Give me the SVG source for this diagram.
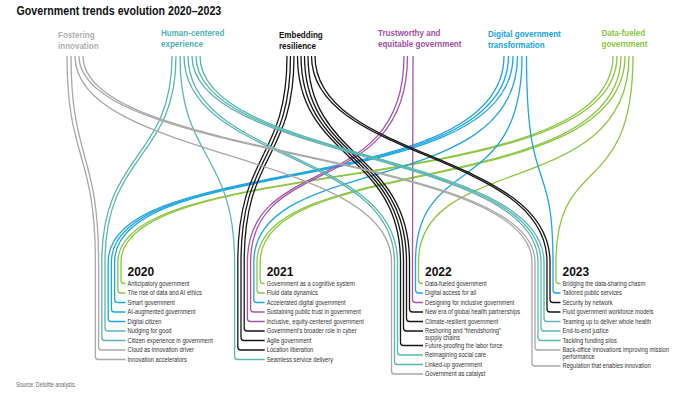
<svg xmlns="http://www.w3.org/2000/svg" width="700" height="398" viewBox="0 0 700 398">
<style>
.ln{fill:none;stroke-width:1.3;stroke-linecap:butt}
.gy{stroke:#a8a8a8}.tl{stroke:#5bb6b1}.bk{stroke:#161616}.pu{stroke:#a655a6}.bl{stroke:#1ea6e0}.gr{stroke:#8dc641}
.ttl{font-family:'Liberation Sans',Arial,sans-serif;font-weight:bold;font-size:13px;fill:#111}
.cat{font-family:'Liberation Sans',Arial,sans-serif;font-weight:bold;font-size:9.8px}
.yr{font-family:'Liberation Sans',Arial,sans-serif;font-weight:bold;font-size:12px;fill:#111}
.it{font-family:'Liberation Sans',Arial,sans-serif;font-size:7.2px;fill:#333}
.src{font-family:'Liberation Sans',Arial,sans-serif;font-size:6.5px;fill:#666}
</style>
<rect width="700" height="398" fill="#fff"/>
<g transform="translate(16.5 0) scale(0.82 1)"><text class="ttl" x="0" y="15">Government trends evolution 2020–2023</text></g>

<g id="connectors">
<path class="ln gr" d="M617 56C617 200 121 152 121 262V280.5Q121 283.5 124 283.5H125.5"/>
<path class="ln gr" d="M613 56C613 200 117.8 152 117.8 262V290Q117.8 293 120.8 293H125.5"/>
<path class="ln bl" d="M513 56C513 200 114.6 152 114.6 262V299.5Q114.6 302.5 117.6 302.5H125.5"/>
<path class="ln bl" d="M508.5 56C508.5 200 111.4 152 111.4 262V309Q111.4 312 114.4 312H125.5"/>
<path class="ln bl" d="M504 56C504 200 108.2 152 108.2 262V318.5Q108.2 321.5 111.2 321.5H125.5"/>
<path class="ln tl" d="M176 56C176 160 105 152 105 262V328Q105 331 108 331H125.5"/>
<path class="ln tl" d="M172 56C172 160 101.8 152 101.8 262V337.5Q101.8 340.5 104.8 340.5H125.5"/>
<path class="ln gy" d="M71 56C71 160 98.6 152 98.6 262V347Q98.6 350 101.6 350H125.5"/>
<path class="ln gy" d="M67 56C67 160 95.4 152 95.4 262V356.5Q95.4 359.5 98.4 359.5H125.5"/>
<path class="ln gr" d="M625 56C625 200 260.2 152 260.2 262V280.5Q260.2 283.5 263.2 283.5H264.7"/>
<path class="ln gr" d="M621 56C621 200 257 152 257 262V290Q257 293 260 293H264.7"/>
<path class="ln bl" d="M517.5 56C517.5 200 253.8 152 253.8 262V299.5Q253.8 302.5 256.8 302.5H264.7"/>
<path class="ln pu" d="M407.5 56C407.5 200 250.6 152 250.6 262V309Q250.6 312 253.6 312H264.7"/>
<path class="ln pu" d="M404 56C404 200 247.4 152 247.4 262V318.5Q247.4 321.5 250.4 321.5H264.7"/>
<path class="ln bk" d="M294 56C294 160 244.2 152 244.2 262V328Q244.2 331 247.2 331H264.7"/>
<path class="ln bk" d="M290.5 56C290.5 160 241 152 241 262V337.5Q241 340.5 244 340.5H264.7"/>
<path class="ln bk" d="M287 56C287 160 237.8 152 237.8 262V347Q237.8 350 240.8 350H264.7"/>
<path class="ln tl" d="M180 56C180 160 234.6 152 234.6 262V356.5Q234.6 359.5 237.6 359.5H264.7"/>
<path class="ln gr" d="M629 56C629 200 418.5 152 418.5 262V280.5Q418.5 283.5 421.5 283.5H423"/>
<path class="ln bl" d="M522 56C522 200 415.5 152 415.5 262V290Q415.5 293 418.5 293H423"/>
<path class="ln pu" d="M413 56C413 200 412.5 152 412.5 262V299.5Q412.5 302.5 415.5 302.5H423"/>
<path class="ln bk" d="M308 56C308 160 409.5 152 409.5 262V309Q409.5 312 412.5 312H423"/>
<path class="ln bk" d="M304.5 56C304.5 160 406.5 152 406.5 262V318.5Q406.5 321.5 409.5 321.5H423"/>
<path class="ln bk" d="M301 56C301 160 403.5 152 403.5 262V328Q403.5 331 406.5 331H423"/>
<path class="ln bk" d="M297.5 56C297.5 160 400.5 152 400.5 262V342.5Q400.5 345.5 403.5 345.5H423"/>
<path class="ln tl" d="M188 56C188 160 397.5 152 397.5 262V352Q397.5 355 400.5 355H423"/>
<path class="ln tl" d="M184 56C184 160 394.5 152 394.5 262V361.5Q394.5 364.5 397.5 364.5H423"/>
<path class="ln gy" d="M75 56C75 160 391.5 152 391.5 262V371Q391.5 374 394.5 374H423"/>
<path class="ln gr" d="M633 56C633 200 556 152 556 262V280.5Q556 283.5 559 283.5H560.5"/>
<path class="ln bl" d="M526.5 56C526.5 200 553 152 553 262V290Q553 293 556 293H560.5"/>
<path class="ln bk" d="M315 56C315 160 550 152 550 262V299.5Q550 302.5 553 302.5H560.5"/>
<path class="ln bk" d="M311.5 56C311.5 160 547 152 547 262V309Q547 312 550 312H560.5"/>
<path class="ln tl" d="M200 56C200 160 544 152 544 262V318.5Q544 321.5 547 321.5H560.5"/>
<path class="ln tl" d="M196 56C196 160 541 152 541 262V328Q541 331 544 331H560.5"/>
<path class="ln tl" d="M192 56C192 160 538 152 538 262V337.5Q538 340.5 541 340.5H560.5"/>
<path class="ln gy" d="M83 56C83 160 535 152 535 262V347Q535 350 538 350H560.5"/>
<path class="ln gy" d="M79 56C79 160 532 152 532 262V363Q532 366 535 366H560.5"/>
</g>

<g id="cat-fostering" transform="translate(58 0) scale(0.82 1)">
<text class="cat" fill="#b0b0b0" x="0" y="38.5">Fostering</text>
<text class="cat" fill="#b0b0b0" x="0" y="49.5">innovation</text>
</g>
<g id="cat-human" transform="translate(161 0) scale(0.82 1)">
<text class="cat" fill="#4fb3ae" x="0" y="36">Human-centered</text>
<text class="cat" fill="#4fb3ae" x="0" y="47">experience</text>
</g>
<g id="cat-resilience" transform="translate(279 0) scale(0.82 1)">
<text class="cat" fill="#111" x="0" y="38.5">Embedding</text>
<text class="cat" fill="#111" x="0" y="49.5">resilience</text>
</g>
<g id="cat-trust" transform="translate(378 0) scale(0.82 1)">
<text class="cat" fill="#a34fa3" x="0" y="36">Trustworthy and</text>
<text class="cat" fill="#a34fa3" x="0" y="47">equitable government</text>
</g>
<g id="cat-digital" transform="translate(488 0) scale(0.82 1)">
<text class="cat" fill="#1aa3de" x="0" y="37.5">Digital government</text>
<text class="cat" fill="#1aa3de" x="0" y="48.5">transformation</text>
</g>
<g id="cat-data" transform="translate(601.5 0) scale(0.82 1)">
<text class="cat" fill="#8cc63f" x="0" y="36">Data-fueled</text>
<text class="cat" fill="#8cc63f" x="0" y="47">government</text>
</g>

<g id="year-2020">
<text class="yr" x="127.5" y="276">2020</text>
<g transform="translate(127.5 0) scale(0.8 1)">
<text class="it" x="0" y="286">Anticipatory government</text>
<text class="it" x="0" y="295.5">The rise of data and AI ethics</text>
<text class="it" x="0" y="305">Smart government</text>
<text class="it" x="0" y="314.5">AI-augmented government</text>
<text class="it" x="0" y="324">Digital citizen</text>
<text class="it" x="0" y="333.5">Nudging for good</text>
<text class="it" x="0" y="343">Citizen experience in government</text>
<text class="it" x="0" y="352.5">Cloud as innovation driver</text>
<text class="it" x="0" y="362">Innovation accelerators</text>
</g>
</g>
<g id="year-2021">
<text class="yr" x="266.7" y="276">2021</text>
<g transform="translate(266.7 0) scale(0.8 1)">
<text class="it" x="0" y="286">Government as a cognitive system</text>
<text class="it" x="0" y="295.5">Fluid data dynamics</text>
<text class="it" x="0" y="305">Accelerated digital government</text>
<text class="it" x="0" y="314.5">Sustaining public trust in government</text>
<text class="it" x="0" y="324">Inclusive, equity-centered government</text>
<text class="it" x="0" y="333.5">Government’s broader role in cyber</text>
<text class="it" x="0" y="343">Agile government</text>
<text class="it" x="0" y="352.5">Location liberation</text>
<text class="it" x="0" y="362">Seamless service delivery</text>
</g>
</g>
<g id="year-2022">
<text class="yr" x="425" y="276">2022</text>
<g transform="translate(425 0) scale(0.8 1)">
<text class="it" x="0" y="286">Data-fueled government</text>
<text class="it" x="0" y="295.5">Digital access for all</text>
<text class="it" x="0" y="305">Designing for inclusive government</text>
<text class="it" x="0" y="314.5">New era of global health partnerships</text>
<text class="it" x="0" y="324">Climate-resilient government</text>
<text class="it" x="0" y="333.5">Reshoring and “friendshoring”</text>
<text class="it" x="0" y="340.5">supply chains</text>
<text class="it" x="0" y="348">Future-proofing the labor force</text>
<text class="it" x="0" y="357.5">Reimagining social care</text>
<text class="it" x="0" y="367">Linked-up government</text>
<text class="it" x="0" y="376.5">Government as catalyst</text>
</g>
</g>
<g id="year-2023">
<text class="yr" x="562.5" y="276">2023</text>
<g transform="translate(562.5 0) scale(0.8 1)">
<text class="it" x="0" y="286">Bridging the data-sharing chasm</text>
<text class="it" x="0" y="295.5">Tailored public services</text>
<text class="it" x="0" y="305">Security by network</text>
<text class="it" x="0" y="314.5">Fluid government workforce models</text>
<text class="it" x="0" y="324">Teaming up to deliver whole health</text>
<text class="it" x="0" y="333.5">End-to-end justice</text>
<text class="it" x="0" y="343">Tackling funding silos</text>
<text class="it" x="0" y="352.5">Back-office innovations improving mission</text>
<text class="it" x="0" y="359.5">performance</text>
<text class="it" x="0" y="368.5">Regulation that enables innovation</text>
</g>
</g>
<g transform="translate(16 0) scale(0.82 1)"><text class="src" x="0" y="387">Source: Deloitte analysis.</text></g>
</svg>
